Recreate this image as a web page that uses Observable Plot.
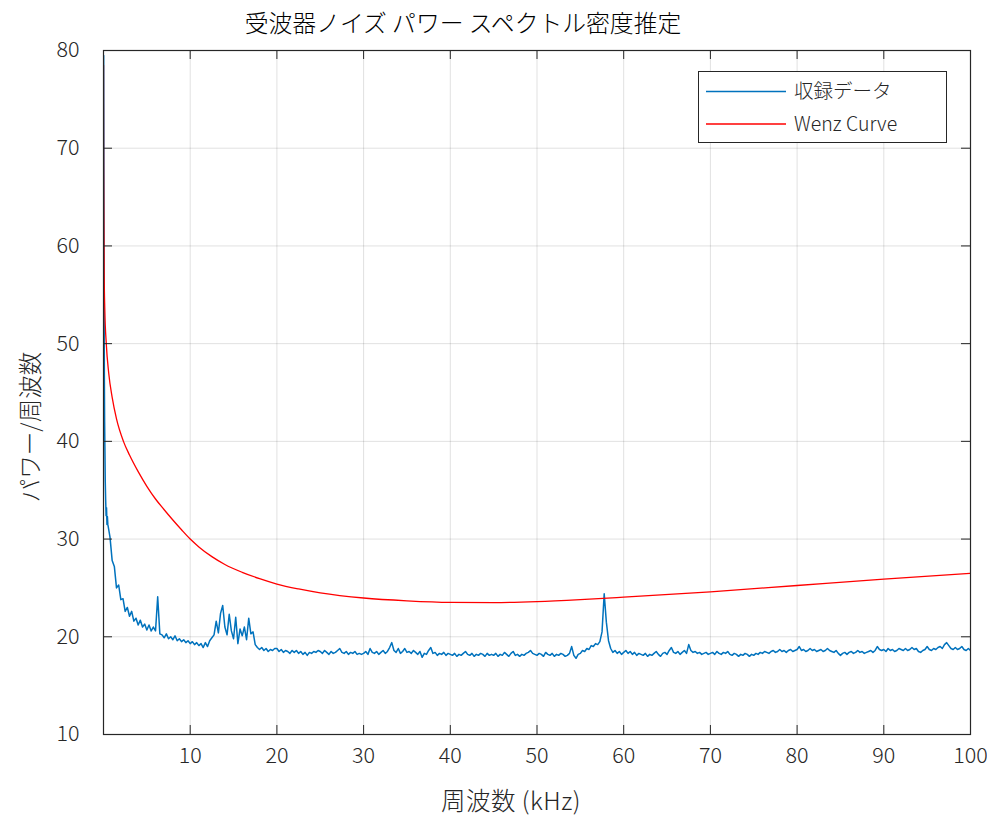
<!DOCTYPE html>
<html>
<head>
<meta charset="utf-8">
<script src="https://cdn.jsdelivr.net/npm/d3@7"></script>
<script src="https://cdn.jsdelivr.net/npm/@observablehq/plot@0.6"></script>
<style>
  html, body { margin: 0; padding: 0; background: #fff; }
  #wrap { position: relative; width: 987px; height: 816px; font-family: "Noto Sans CJK JP", "Noto Sans", sans-serif; font-weight: 300; color: #262626; }
  #wrap > svg { position: absolute; left: 0; top: 0; }
  .lbl { position: absolute; white-space: nowrap; line-height: 1; }
  #title { left: 463px; top: 22px; transform: translate(-50%, -50%); font-size: 23.8px; color: #000; }
  #xlabel { left: 511px; top: 800px; transform: translate(-50%, -50%); font-size: 24.5px; letter-spacing: 0.5px; }
  #ylabel { left: 30px; top: 427px; transform: translate(-50%, -50%) rotate(-90deg); font-size: 23.5px; }
</style>
</head>
<body>
<div id="wrap">
  <div id="title" class="lbl">受波器ノイズ パワー スペクトル密度推定</div>
  <div id="xlabel" class="lbl">周波数 (kHz)</div>
  <div id="ylabel" class="lbl">パワー/周波数</div>
</div>
<script>
// Tick positions for both axes
const xTicks = [10, 20, 30, 40, 50, 60, 70, 80, 90, 100];
const yTicks = [10, 20, 30, 40, 50, 60, 70, 80];

// Series names and colours
const seriesNames = ["収録データ", "Wenz Curve"];
const seriesColors = ["#0072BD", "#FF0000"];

// Recorded noise PSD: the steep low-frequency head (kHz, dB)
const recHeadFreq = [0.02, 0.04, 0.06, 0.08, 0.10, 0.13, 0.16, 0.20, 0.25, 0.30, 0.35, 0.40, 0.45];
const recHeadPsd  = [79.5, 70.0, 60.0, 51.0, 46.5, 42.0, 39.5, 36.0, 34.0, 32.4, 33.2, 31.5, 32.3];

// Recorded noise PSD on a regular 0.25 kHz grid starting at 0.5 kHz (dB)
const recStart = 0.5;
const recStep = 0.25;
const recPsd = [
  31.5, 30.2, 27.8, 27.2, 25.0, 25.3, 23.8, 23.9, 22.6, 23.0, 22.1, 22.6, 21.6, 21.9, 21.2, 21.7, 21.0, 21.3,
  20.7, 21.2, 20.6, 21.0, 20.6, 24.1, 20.3, 20.2, 19.9, 20.3, 19.8, 20.0, 19.7, 20.1, 19.6, 19.8, 19.5, 19.7, 19.4, 19.6,
  19.3, 19.5, 19.2, 19.4, 19.1, 19.3, 18.9, 19.4, 19.0, 19.6, 19.9, 20.2, 21.6, 20.4, 22.4, 23.2, 21.0, 20.2, 22.3, 20.6,
  19.8, 22.0, 19.3, 20.8, 20.1, 21.0, 19.7, 21.9, 20.3, 20.5, 19.2, 18.9, 18.7, 18.9, 18.6, 18.8, 18.5, 18.7, 18.6, 18.8,
  18.8, 18.5, 18.7, 18.4, 18.6, 18.5, 18.3, 18.6, 18.4, 18.6, 18.3, 18.5, 18.2, 18.4, 18.1, 18.4, 18.3, 18.5, 18.4, 18.6,
  18.5, 18.3, 18.6, 18.4, 18.2, 18.5, 18.3, 18.4, 18.6, 18.8, 18.4, 18.3, 18.5, 18.2, 18.4, 18.3, 18.5, 18.2, 18.3, 18.2,
  18.3, 18.5, 18.2, 18.8, 18.4, 18.3, 18.5, 18.2, 18.4, 18.6, 18.3, 18.5, 18.9, 19.4, 18.6, 18.4, 18.8, 18.3, 18.5, 18.8,
  18.4, 18.5, 18.3, 18.6, 18.4, 18.2, 18.5, 17.9, 18.3, 18.2, 18.6, 18.9, 18.3, 18.4, 18.1, 18.3, 18.2, 18.4, 18.1, 18.3,
  18.2, 18.1, 18.3, 18.0, 18.2, 18.1, 18.3, 18.5, 18.2, 18.1, 18.3, 18.0, 18.2, 18.1, 18.3, 18.2, 18.0, 18.3, 18.1, 18.2,
  18.1, 18.3, 18.0, 18.2, 18.1, 18.4, 18.2, 18.0, 18.3, 18.5, 18.1, 18.2, 18.0, 18.2, 18.1, 18.3, 18.4, 18.6, 18.3, 18.2,
  18.1, 18.3, 18.2, 18.0, 18.4, 18.2, 18.1, 18.3, 18.0, 18.2, 18.1, 18.3, 18.2, 18.0, 18.1, 18.3, 19.0, 18.1, 17.8, 18.2,
  18.3, 18.6, 18.5, 18.8, 18.7, 19.1, 19.0, 19.3, 19.2, 19.5, 20.5, 24.4, 21.5, 19.6, 18.8, 18.4, 18.6, 18.3, 18.5, 18.2,
  18.4, 18.6, 18.3, 18.5, 18.2, 18.4, 18.1, 18.3, 18.2, 18.1, 18.3, 18.0, 18.2, 18.1, 18.3, 18.5, 18.2, 18.0, 18.3, 18.4,
  18.2, 18.6, 18.9, 18.4, 18.3, 18.5, 18.2, 18.4, 18.6, 18.3, 19.2, 18.6, 18.4, 18.5, 18.3, 18.4, 18.2, 18.3, 18.4, 18.2,
  18.3, 18.4, 18.2, 18.5, 18.3, 18.2, 18.4, 18.3, 18.5, 18.2, 18.1, 18.3, 18.2, 18.0, 18.2, 18.1, 18.3, 18.2, 18.0, 18.2,
  18.1, 18.3, 18.2, 18.4, 18.3, 18.5, 18.4, 18.3, 18.5, 18.6, 18.4, 18.5, 18.7, 18.5, 18.6, 18.4, 18.6, 18.7, 18.5, 18.6,
  18.7, 19.0, 18.6, 18.7, 18.5, 18.6, 18.8, 18.6, 18.7, 18.5, 18.6, 18.7, 18.5, 18.6, 18.8, 18.6, 18.5, 18.4, 18.6, 18.3,
  18.1, 18.3, 18.4, 18.2, 18.4, 18.5, 18.3, 18.4, 18.6, 18.4, 18.5, 18.3, 18.4, 18.5, 18.6, 18.4, 18.6, 19.0, 18.7, 18.6,
  18.7, 18.5, 18.8, 18.6, 18.7, 18.5, 18.6, 18.8, 18.7, 18.6, 18.8, 18.6, 18.7, 18.9, 18.7, 18.8, 18.5, 18.4, 18.6, 18.7,
  19.0, 18.7, 18.6, 18.8, 18.7, 18.9, 19.0, 18.8, 19.2, 19.4, 19.1, 18.8, 18.7, 18.9, 18.7, 18.8, 19.0, 18.7, 18.6, 18.8,
  18.6
];

// Wenz reference curve (kHz, dB)
const wenzFreq = [0.002, 0.005, 0.01, 0.02, 0.04, 0.08, 0.15, 0.32, 0.6, 1.0, 1.5, 2.3, 3.0, 4.0, 5.0, 6.0, 7.0, 8.0,
                  9.0, 10, 11, 12.5, 14, 16, 18, 20, 22.5, 25, 30, 35, 40, 45, 50, 55, 60, 70, 80, 90, 100];
const wenzPsd  = [78.5, 74.5, 71.0, 67.5, 63.5, 57.0, 53.5, 50.0, 47.0, 44.5, 42.3, 40.0, 38.6, 36.9, 35.4, 34.1, 33.0, 31.95,
                  30.95, 30.0, 29.2, 28.2, 27.4, 26.6, 25.95, 25.4, 24.9, 24.5, 23.97, 23.68, 23.52, 23.5, 23.6, 23.8, 24.05,
                  24.6, 25.25, 25.9, 26.5];

const recorded = [
  ...recHeadFreq.map((f, i) => ({f, psd: recHeadPsd[i]})),
  ...recPsd.map((v, i) => ({f: recStart + i * recStep, psd: v}))
];
const wenz = wenzFreq.map((f, i) => ({f, psd: wenzPsd[i]}));

const W = 987, H = 816;
const mL = 103, mR = 17, mT = 50, mB = 82;
const fw = W - mL - mR, fh = H - mT - mB;
const tickLen = 9;
const axisColor = "#262626";

const chart = Plot.plot({
  width: W,
  height: H,
  marginLeft: mL,
  marginRight: mR,
  marginTop: mT,
  marginBottom: mB,
  style: {fontFamily: '"Noto Sans CJK JP", "Noto Sans", sans-serif', fontWeight: 300, fontSize: "21px", color: axisColor, background: "transparent"},
  x: {domain: [0, 100]},
  y: {domain: [10, 80]},
  marks: [
    Plot.gridX(xTicks, {stroke: "#000", strokeOpacity: 0.12, strokeWidth: 1}),
    Plot.gridY(yTicks, {stroke: "#000", strokeOpacity: 0.12, strokeWidth: 1}),
    Plot.line(recorded, {x: "f", y: "psd", stroke: seriesColors[0], strokeWidth: 1.5, clip: true}),
    Plot.line(wenz, {x: "f", y: "psd", stroke: seriesColors[1], strokeWidth: 1.3, curve: "monotone-x", clip: true}),
    // inward ticks on all four sides
    Plot.tickX(xTicks, {x: d => d, stroke: axisColor, insetTop: fh - tickLen}),
    Plot.tickX(xTicks, {x: d => d, stroke: axisColor, insetBottom: fh - tickLen}),
    Plot.tickY(yTicks, {y: d => d, stroke: axisColor, insetRight: fw - tickLen}),
    Plot.tickY(yTicks, {y: d => d, stroke: axisColor, insetLeft: fw - tickLen}),
    Plot.axisX(xTicks, {tickSize: 0, tickPadding: 13, label: null, fontSize: 21.5, fill: axisColor}),
    Plot.axisY(yTicks, {tickSize: 0, tickPadding: 24, label: null, fontSize: 21.5, fill: axisColor}),
    Plot.frame({stroke: axisColor, strokeWidth: 1.2})
  ]
});

const wrap = document.getElementById("wrap");
wrap.insertBefore(chart, wrap.firstChild);

// legend box drawn as its own small svg: a line sample and a label per series
const legendBox = {left: 698, top: 71, width: 249, height: 72};
const legendRows = [20.5, 53];
const legendSvg = d3.create("svg")
  .attr("width", legendBox.width)
  .attr("height", legendBox.height)
  .style("position", "absolute")
  .style("left", legendBox.left + "px")
  .style("top", legendBox.top + "px");
legendSvg.append("rect")
  .attr("x", 0.5).attr("y", 0.5)
  .attr("width", legendBox.width - 1).attr("height", legendBox.height - 1)
  .attr("fill", "#fff").attr("stroke", axisColor);
const rows = legendSvg.selectAll("g.row")
  .data(seriesNames.map((name, i) => ({name, color: seriesColors[i], y: legendRows[i]})))
  .join("g")
  .attr("class", "row");
rows.append("line")
  .attr("x1", 8).attr("x2", 88)
  .attr("y1", d => d.y).attr("y2", d => d.y)
  .attr("stroke", d => d.color)
  .attr("stroke-width", 1.3);
rows.append("text")
  .attr("x", 96).attr("y", d => d.y)
  .attr("dy", "0.35em")
  .attr("font-size", 19.5)
  .attr("font-weight", 300)
  .attr("font-family", '"Noto Sans CJK JP", "Noto Sans", sans-serif')
  .attr("fill", axisColor)
  .text(d => d.name);
wrap.appendChild(legendSvg.node());
</script>
</body>
</html>
